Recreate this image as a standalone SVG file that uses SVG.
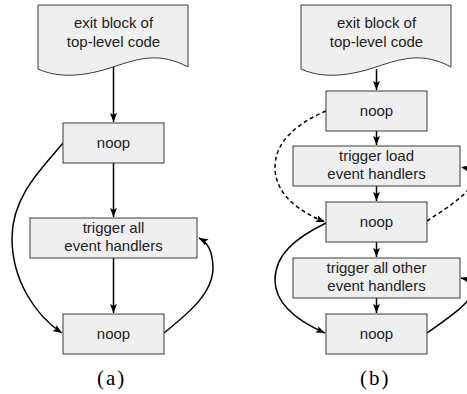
<svg xmlns="http://www.w3.org/2000/svg" width="467" height="394" viewBox="0 0 467 394">
<defs>
<marker id="ah" markerUnits="userSpaceOnUse" markerWidth="10" markerHeight="8" refX="9" refY="3.5" orient="auto" overflow="visible">
<path d="M0,0 L9,3.5 L0,7 L1.8,3.5 Z" fill="#000"/>
</marker>
<style>
.box{fill:#efefef;stroke:#3a3a3a;stroke-width:1}
.t{font-family:"Liberation Sans",Arial,sans-serif;font-size:15px;fill:#222;text-anchor:middle}
.lab{font-family:"Liberation Serif","Times New Roman",serif;font-size:21px;fill:#000;letter-spacing:2px}
.e{fill:none;stroke:#000;stroke-width:1.5;marker-end:url(#ah)}
.d{stroke-dasharray:4 3}
</style>
</defs>
<rect width="467" height="394" fill="#fff"/>

<g id="connectors">
<!-- panel a -->
<path class="e" d="M113.5,67 V122"/>
<path class="e" d="M113.5,163 V217"/>
<path class="e" d="M113.5,258 V313"/>
<path class="e" d="M63,143 C45,165 12,195 12,238 C12,280 35,315 62,333"/>
<path class="e" d="M164,333 C190,312 214,292 213,266 C212,250 208,243 199,238"/>
<!-- panel b -->
<path class="e" d="M376.5,69 V90"/>
<path class="e" d="M376.5,131 V145"/>
<path class="e" d="M376.5,186 V201"/>
<path class="e" d="M376.5,242 V257"/>
<path class="e" d="M376.5,298 V313"/>
<path class="e d" d="M326,111 C300,122 275,140 275,167 C275,195 300,212 325,222"/>
<path class="e d" d="M427,221 C445,209 468,195 473,182 C476,173 470,169 461,167"/>
<path class="e" d="M326,223 C295,238 275,255 275,280 C275,305 300,322 325,333"/>
<path class="e" d="M427,333 C445,320 468,305 473,293 C476,284 470,280 461,278"/>
</g>

<g id="a_exit">
<path class="box" d="M38,5 H188 V67 C160,52 140,58 113,67 C86,76 60,79 38,69 Z"/>
<text class="t" x="113.5" y="28">exit block of</text>
<text class="t" x="113.5" y="46.5">top-level code</text>
</g>
<g id="a_noop1">
<rect class="box" x="63" y="123" width="101" height="40"/>
<text class="t" x="113.5" y="147.5">noop</text>
</g>
<g id="a_trigger">
<rect class="box" x="30" y="218" width="167" height="40"/>
<text class="t" x="113.5" y="233">trigger all</text>
<text class="t" x="113.5" y="251">event handlers</text>
</g>
<g id="a_noop2">
<rect class="box" x="63" y="314" width="101" height="40"/>
<text class="t" x="113.5" y="338.5">noop</text>
</g>
<text class="lab" x="97" y="385">(a)</text>

<g id="b_exit">
<path class="box" d="M301,5 H451 V67 C423,52 403,58 376,67 C349,76 323,79 301,69 Z"/>
<text class="t" x="376.5" y="28">exit block of</text>
<text class="t" x="376.5" y="46.5">top-level code</text>
</g>
<g id="b_noop1">
<rect class="box" x="326" y="91" width="101" height="40"/>
<text class="t" x="376.5" y="115.5">noop</text>
</g>
<g id="b_trigger_load">
<rect class="box" x="293" y="146" width="167" height="40"/>
<text class="t" x="376.5" y="161">trigger load</text>
<text class="t" x="376.5" y="179">event handlers</text>
</g>
<g id="b_noop2">
<rect class="box" x="326" y="202" width="101" height="40"/>
<text class="t" x="376.5" y="226.5">noop</text>
</g>
<g id="b_trigger_other">
<rect class="box" x="293" y="258" width="167" height="40"/>
<text class="t" x="376.5" y="273">trigger all other</text>
<text class="t" x="376.5" y="291">event handlers</text>
</g>
<g id="b_noop3">
<rect class="box" x="326" y="314" width="101" height="40"/>
<text class="t" x="376.5" y="338.5">noop</text>
</g>
<text class="lab" x="360" y="385">(b)</text>
</svg>
